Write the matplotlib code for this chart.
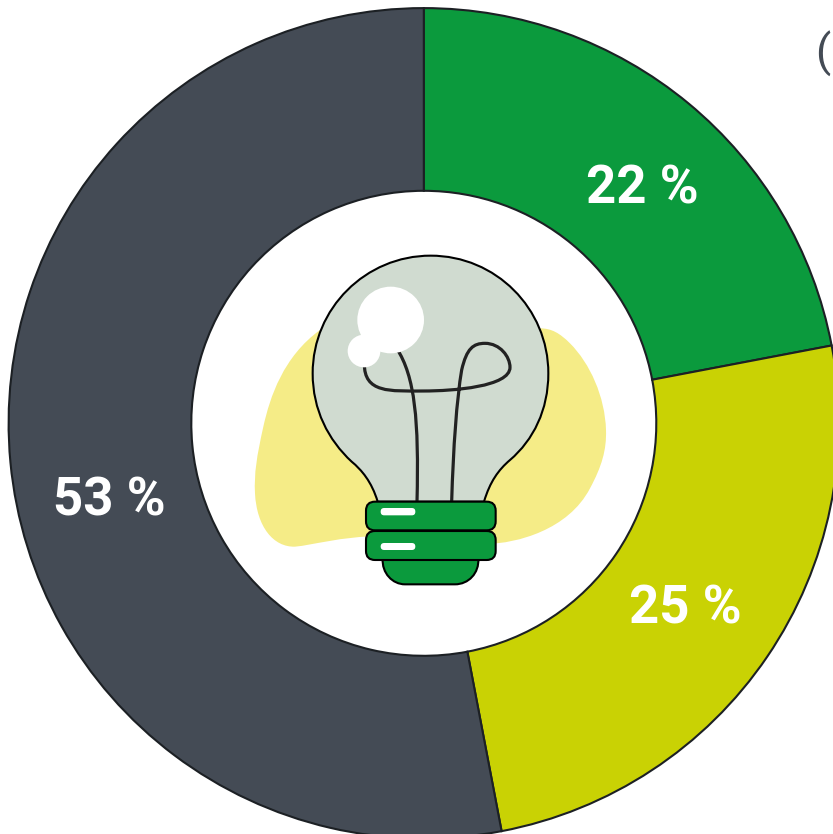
import matplotlib
matplotlib.use("Agg")
import matplotlib.pyplot as plt
from matplotlib.path import Path
from matplotlib.patches import PathPatch, Circle, FancyBboxPatch

labels = ["22 %", "25 %", "53 %"]
values = [22, 25, 53]
colors = ["#0b9a3d", "#c9d204", "#444b55"]
W, H = 833, 834

fig = plt.figure(figsize=(W / 100, H / 100), dpi=100)
ax = fig.add_axes([0, 0, 1, 1])

CX, CY, R, RI = 423.8, 834 - 423.3, 415.2, 232.5
ax.pie(values, colors=colors, startangle=90, counterclock=False, center=(CX, CY), radius=R,
       wedgeprops=dict(width=R - RI, edgecolor="#1c2024", linewidth=1.5))
ax.set_xlim(0, W)
ax.set_ylim(0, H)
ax.set_aspect("equal")
ax.axis("off")


def Z(x, y):
    """Zoomed-crop coordinates of the pictogram to figure pixels."""
    return 240 + x / 3, 834 - (240 + y / 3)


def bez(cmds, **kw):
    verts, codes = [], []
    for c in cmds:
        if c[0] == "M":
            verts.append(Z(*c[1])); codes.append(Path.MOVETO)
        elif c[0] == "C":
            for p in c[1:]:
                verts.append(Z(*p)); codes.append(Path.CURVE4)
        elif c[0] == "L":
            verts.append(Z(*c[1])); codes.append(Path.LINETO)
        elif c[0] == "Z":
            verts.append(verts[0]); codes.append(Path.CLOSEPOLY)
    p = PathPatch(Path(verts, codes), **kw)
    ax.add_patch(p)


# Yellow blob
bez([("M", (240, 270)),
     ("C", (130, 350), (90, 470), (70, 560)),
     ("C", (50, 650), (42, 700), (45, 760)),
     ("C", (50, 860), (100, 922), (165, 920)),
     ("C", (220, 915), (300, 890), (420, 888)),
     ("L", (740, 912)),
     ("C", (830, 910), (985, 870), (1050, 745)),
     ("C", (1085, 680), (1100, 630), (1098, 570)),
     ("C", (1095, 470), (1050, 370), (990, 310)),
     ("C", (960, 280), (935, 265), (900, 265)),
     ("Z",)], facecolor="#f5ec87", edgecolor="none", zorder=3)

# Glass
bez([("M", (413, 785)),
     ("C", (395, 725), (365, 690), (335, 665)),
     ("C", (265, 600), (218, 510), (218, 400)),
     ("C", (218, 205), (377, 47), (572, 47)),
     ("C", (767, 47), (925, 205), (925, 400)),
     ("C", (925, 510), (880, 600), (810, 660)),
     ("C", (775, 690), (750, 725), (732, 785)),
     ("Z",)], facecolor="#d0dbd0", edgecolor="#000000", linewidth=1.5, zorder=4)

# Filament
wire = dict(facecolor="none", edgecolor="#222222", linewidth=2.3, zorder=5)
bez([("M", (470, 325)), ("C", (525, 410), (537, 540), (531, 785))], **wire)
bez([("M", (635, 785)),
     ("C", (640, 620), (650, 480), (665, 390)),
     ("C", (680, 325), (700, 310), (735, 310)),
     ("C", (780, 310), (810, 350), (810, 382)),
     ("C", (810, 440), (640, 453), (550, 453)),
     ("C", (450, 453), (372, 460), (373, 370))], **wire)

# Highlights on the glass
for zx, zy, zr in [(452, 240, 100), (372, 333, 49)]:
    ax.add_patch(Circle(Z(zx, zy), zr / 3, facecolor="white", edgecolor="none", zorder=5.5))

# Screw base
bez([("M", (428, 955)),
     ("L", (715, 955)),
     ("C", (718, 1000), (685, 1033), (645, 1033)),
     ("L", (495, 1033)),
     ("C", (458, 1033), (425, 1000), (428, 955)),
     ("Z",)], facecolor="#0b9a3d", edgecolor="#000000", linewidth=1.5, zorder=6)
for top, bot in [(785, 871), (873, 960)]:
    x0, y1 = Z(378, bot)
    x1, y0 = Z(767, top)
    ax.add_patch(FancyBboxPatch((x0 + 9, y1 + 9), x1 - x0 - 18, y0 - y1 - 18,
                                boxstyle="round,pad=9,rounding_size=9",
                                facecolor="#0b9a3d", edgecolor="#000000", linewidth=1.5, zorder=7))
for top, bot in [(804, 826), (909, 930)]:
    x0, y1 = Z(422, bot)
    x1, y0 = Z(526, top)
    ax.add_patch(FancyBboxPatch((x0 + 3.5, y1 + 3.5), x1 - x0 - 7, y0 - y1 - 7,
                                boxstyle="round,pad=3.5,rounding_size=3.5",
                                facecolor="white", edgecolor="none", zorder=8))

# Percent labels
for lab, (px, py) in zip(labels, [(642, 183), (685, 604), (109, 495)]):
    ax.text(px, H - py, lab, color="white", fontsize=38, fontweight="bold", family="Roboto",
            ha="center", va="center_baseline", zorder=9)

# Clipped start of a title at the top right
ax.text(815, H - 54, "(", color="#444b55", fontsize=32, family="Roboto",
        ha="left", va="center", zorder=9, clip_on=True)

fig.savefig("out.png", dpi=100, facecolor="white")
